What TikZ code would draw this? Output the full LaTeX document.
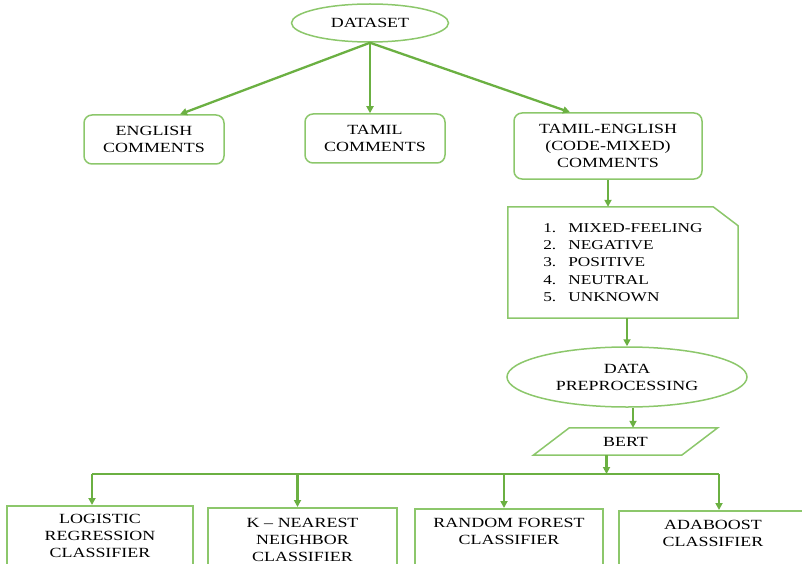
\documentclass[tikz,border=0pt]{standalone}
\usepackage{fontspec}
\setmainfont[FakeStretch=1.28]{Liberation Serif}
\usetikzlibrary{arrows.meta,shapes.geometric}

\newlength{\du}
\setlength{\du}{1pt}

\definecolor{dialinecolor}{rgb}{0.42, 0.69, 0.26}
\definecolor{boxlinecolor}{rgb}{0.55, 0.78, 0.42}

\tikzset{
  flowarrow/.style={draw=dialinecolor, line width=2.3\du, -{Triangle[length=7pt,width=7pt]}},
  textfont/.style={font=\fontsize{14}{17}\selectfont},
  roundbox/.style={draw=boxlinecolor, line width=1.5\du, rounded corners=8pt, inner sep=0pt, align=center, textfont},
  ovalbox/.style={ellipse, draw=boxlinecolor, line width=1.5\du, inner sep=0pt, align=center, textfont},
  classbox/.style={draw=boxlinecolor, line width=1.5\du, anchor=north, inner xsep=0pt, inner ysep=8pt, text depth=70pt, align=center, textfont},
}

\begin{document}
\begin{tikzpicture}[x=1pt, y=-1pt]
\useasboundingbox (0,0) rectangle (802,564);
\clip (0,0) rectangle (802,564);

% top of the tree
\node[ovalbox, minimum width=157pt, minimum height=38pt] (dataset) at (370,23) {DATASET};
\node[roundbox, minimum width=140pt, minimum height=49pt] (english) at (154,139.5) {ENGLISH\\COMMENTS};
\node[roundbox, minimum width=140pt, minimum height=49pt] (tamil) at (375,138.5) {TAMIL\\COMMENTS};
\node[roundbox, minimum width=188pt, minimum height=66pt] (mixed) at (608,146) {TAMIL-ENGLISH\\(CODE-MIXED)\\COMMENTS};

\draw[flowarrow] (dataset.south) -- ([xshift=26pt]english.north);
\draw[flowarrow] (dataset.south) -- (dataset.south |- tamil.north);
\draw[flowarrow] (dataset.south) -- ([xshift=-38pt]mixed.north);

% classes, box with one cut corner
\node[minimum width=230pt, minimum height=111pt, inner sep=0pt, align=left, font=\fontsize{13.5}{17.3}\selectfont] (classes) at (623,262.5)
  {\makebox[25pt][l]{1.}MIXED-FEELING\\\makebox[25pt][l]{2.}NEGATIVE\\\makebox[25pt][l]{3.}POSITIVE\\\makebox[25pt][l]{4.}NEUTRAL\\\makebox[25pt][l]{5.}UNKNOWN};
\draw[draw=boxlinecolor, line width=1.5\du] (classes.north west) -- ([xshift=-25pt]classes.north east) -- ([yshift=-19pt]classes.north east) -- (classes.south east) -- (classes.south west) -- cycle;
\draw[flowarrow] (mixed.south) -- (mixed.south |- classes.north);

\node[ovalbox, minimum width=240pt, minimum height=60pt] (preproc) at (627,377) {DATA\\PREPROCESSING};
\draw[flowarrow] (classes.south -| preproc.north) -- (preproc.north);

% parallelogram
\node[minimum width=148pt, minimum height=27pt, inner sep=0pt, textfont] (bert) at (625.5,441.5) {BERT};
\draw[draw=boxlinecolor, line width=1.5\du] ([xshift=18pt]bert.north west) -- ([xshift=18pt]bert.north east) -- ([xshift=-18pt]bert.south east) -- ([xshift=-18pt]bert.south west) -- cycle;
\draw[flowarrow] ([xshift=6pt]preproc.south) -- ([xshift=6pt]preproc.south |- bert.north);

% classifiers
\node[classbox, text width=186pt] (logreg) at (100,505) {LOGISTIC\\REGRESSION\\CLASSIFIER};
\node[classbox, text width=189pt, inner ysep=10pt] (knn) at (302.5,507) {K -- NEAREST\\NEIGHBOR\\CLASSIFIER};
\node[classbox, text width=188pt, inner ysep=9pt] (forest) at (509,508) {RANDOM FOREST\\CLASSIFIER};
\node[classbox, text width=188pt, inner ysep=9pt] (adaboost) at (713,510) {ADABOOST\\CLASSIFIER};

\coordinate (busL) at (92,474);
\coordinate (busR) at (719,474);
\draw[draw=dialinecolor, line width=2.3\du] (busL) -- (busR);
\draw[flowarrow] ([xshift=-19pt]bert.south) -- ([xshift=-19pt]bert.south |- busL);
\foreach \b/\dx in {logreg/-8, knn/-5, forest/-5, adaboost/6}
  \draw[flowarrow] ([xshift=\dx pt]\b.north |- busL) -- ([xshift=\dx pt]\b.north);
\end{tikzpicture}
\end{document}
